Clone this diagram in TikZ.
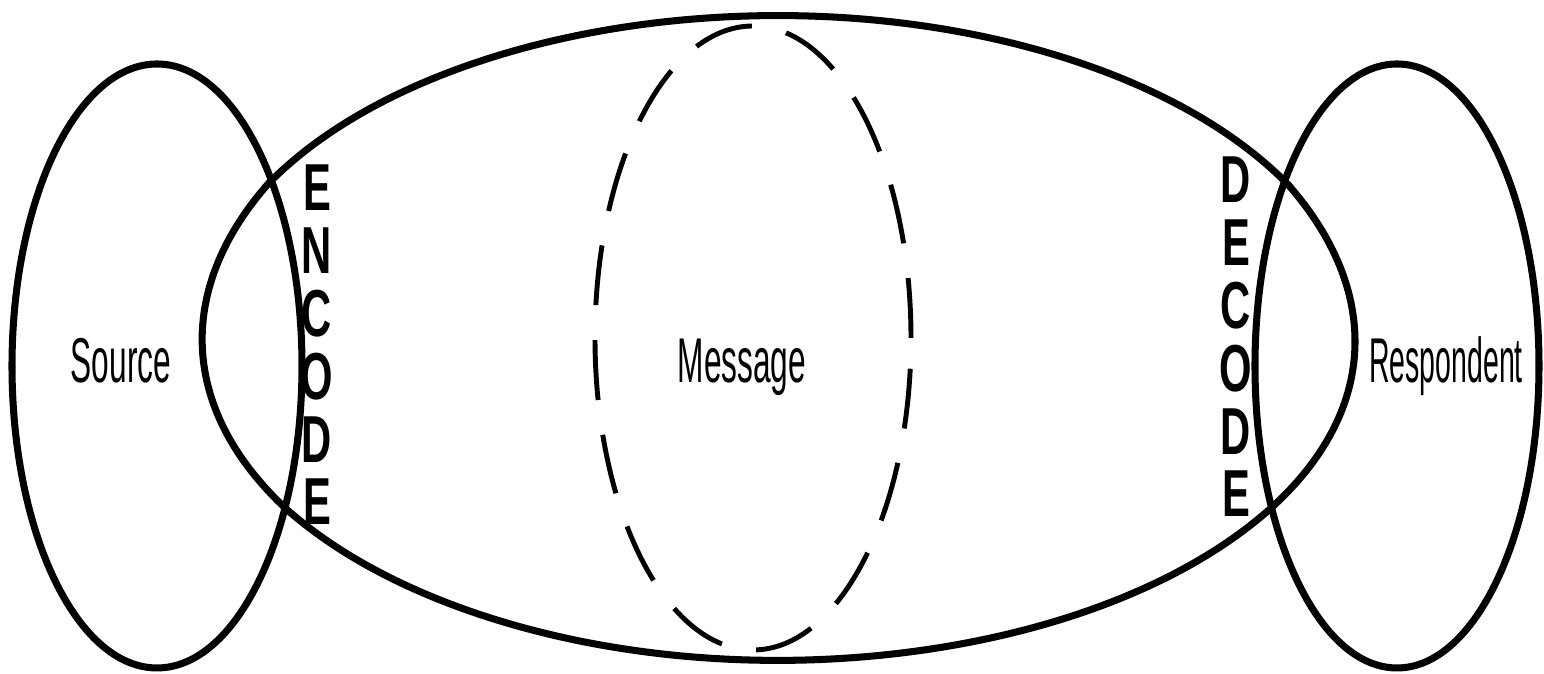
\documentclass[tikz,border=0pt]{standalone}
\usepackage{fontspec}
\setmainfont{Liberation Sans}
\tikzset{
  lbl/.style={font=\fontsize{18}{20}\selectfont, xscale=0.5, anchor=base, inner sep=0pt},
  stack/.style={font=\fontsize{18}{17}\selectfont\bfseries, align=center, xscale=0.66, yscale=1.05, inner sep=0pt},
  wire/.style={line width=2pt},
  ghost/.style={line width=1.4pt, dash pattern=on 0.6cm off 0.35cm}
}
\begin{document}
\begin{tikzpicture}[x=0.01cm, y=0.01cm]
  \useasboundingbox (0,0) rectangle (1544,674);
  % Channel (barrel) between the two parties
  \draw[wire] (268,490) arc[start angle=151.5, end angle=28.2, x radius=580, y radius=322]
    .. controls (1380,384) and (1380,264) .. (1270,165)
    arc[start angle=-32, end angle=-148, x radius=580, y radius=322]
    .. controls (180,264) and (175,384) .. cycle;
  % Source and respondent
  \draw[wire] (157,308) ellipse [x radius=145, y radius=302];
  \draw[wire] (1397,308) ellipse [x radius=142, y radius=302];
  % Message cross-section
  \draw[ghost] (753,336) ellipse [x radius=158, y radius=312];
  % Labels
  \node[lbl] (source) at (121,291) {Source};
  \node[lbl] (message) at (742,291) {Message};
  \node[lbl, xscale=0.9] (respondent) at (1446,291) {Respondent};
  \node[stack] (encode) at (317,329) {E\\N\\C\\O\\D\\E};
  \node[stack] (decode) at (1236,337) {D\\E\\C\\O\\D\\E};
\end{tikzpicture}
\end{document}
